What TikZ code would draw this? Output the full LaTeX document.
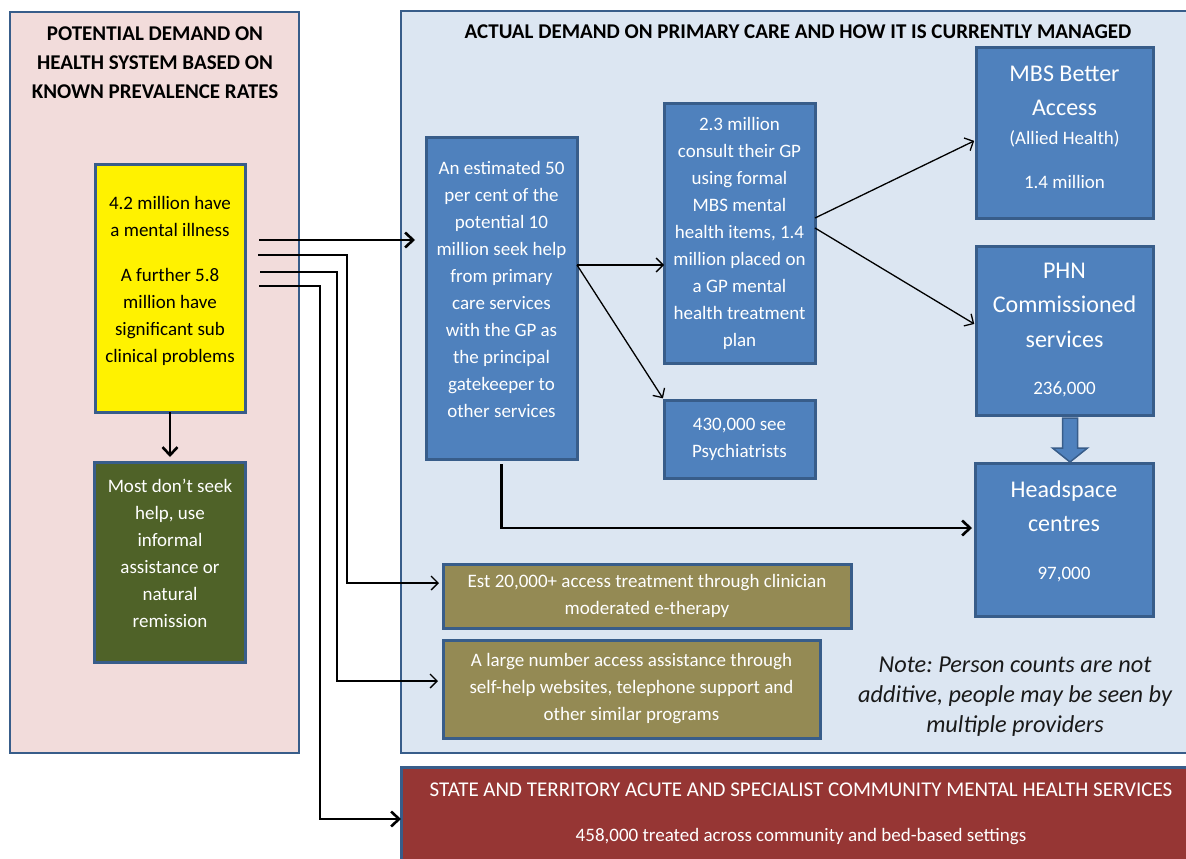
\documentclass[tikz,border=0pt]{standalone}
\usepackage{fontspec}
\setmainfont{Carlito}
\usetikzlibrary{arrows.meta,calc,positioning}
\definecolor{panelBorder}{RGB}{56,93,138}
\definecolor{potentialColor}{RGB}{242,220,219}
\definecolor{actualColor}{RGB}{220,230,242}
\definecolor{serviceColor}{RGB}{79,129,189}
\definecolor{informalColor}{RGB}{79,98,40}
\definecolor{onlineColor}{RGB}{148,138,84}
\definecolor{stateColor}{RGB}{150,54,52}
\newcommand{\bodyfont}{\fontsize{19}{27}\selectfont}
\newcommand{\bigfont}{\fontsize{24}{34}\selectfont}
\tikzset{panel/.style={draw=panelBorder, line width=2.5pt, inner sep=0pt, outer sep=0pt, anchor=north west}}
\tikzset{box/.style={panel, line width=3pt, align=center, text=white, font=\bodyfont}}
\tikzset{service/.style={box, fill=serviceColor}}
\tikzset{online/.style={box, fill=onlineColor}}
\tikzset{heading/.style={align=center, font=\bfseries\fontsize{21}{29}\selectfont}}
\tikzset{thickarrow/.style={line width=2.6pt, -{Straight Barb[length=8pt, width=15pt]}}}
\tikzset{thinarrow/.style={line width=1.3pt, -{Straight Barb[length=7pt, width=14pt]}}}
\tikzset{blockarrow/.style={fill=serviceColor, draw=panelBorder, line width=1.5pt, line join=miter}}

\begin{document}
\frenchspacing
\begin{tikzpicture}[x=1pt, y=-1pt]
\useasboundingbox (0,0) rectangle (1186,859);
% Panels
    \node (PotentialPanel) [panel, fill=potentialColor, minimum width=289pt, minimum height=741pt] at (10,12) {};
    \node (PotentialTitle) [heading] at (155,63) {POTENTIAL DEMAND ON\\ HEALTH SYSTEM BASED ON\\ KNOWN PREVALENCE RATES};

    \node (ActualPanel) [panel, fill=actualColor, minimum width=800pt, minimum height=742pt] at (401,11) {};
    \node (ActualTitle) [heading] at (798,32) {ACTUAL DEMAND ON PRIMARY CARE AND HOW IT IS CURRENTLY MANAGED};

    \node (StateServices) [box, fill=stateColor, minimum width=800pt, minimum height=113pt] at (401,767) {\fontsize{21}{27}\selectfont STATE AND TERRITORY ACUTE AND SPECIALIST COMMUNITY MENTAL HEALTH SERVICES\\[18pt] 458,000 treated across community and bed-based settings\\[-4pt] \mbox{}};

% Boxes
    \node (MentalIllness) [box, fill=yellow, text=black, minimum width=150pt, minimum height=248pt] at (95,164) {4.2 million have\\ a mental illness\\[18pt] A further 5.8\\ million have\\ significant sub\\ clinical problems\\[-9pt] \mbox{}};

    \node (NoHelp) [box, fill=informalColor, minimum width=151pt, minimum height=200pt, below=50pt of MentalIllness, anchor=north] {Most don’t seek\\ help, use\\ informal\\ assistance or\\ natural\\ remission\\[-9pt] \mbox{}};

    \node (SeekHelp) [service, minimum width=151pt, minimum height=322pt] at (426,137) {An estimated 50\\ per cent of the\\ potential 10\\ million seek help\\ from primary\\ care services\\ with the GP as\\ the principal\\ gatekeeper to\\ other services\\[-9pt] \mbox{}};

    \node (ConsultGP) [service, minimum width=151pt, minimum height=260pt] at (664,103) {2.3 million\\ consult their GP\\ using formal\\ MBS mental\\ health items, 1.4\\ million placed on\\ a GP mental\\ health treatment\\ plan};

    \node (Psychiatrists) [service, minimum width=151pt, minimum height=78pt, below=37pt of ConsultGP.south west, anchor=north west] {430,000 see\\ Psychiatrists};

    \node (BetterAccess) [service, minimum width=177pt, minimum height=170pt] at (976,48) {\bigfont MBS Better\\[7pt] \bigfont Access\\[2pt] (Allied Health)\\[17pt] 1.4 million\\[-15pt] \mbox{}};

    \node (PHNServices) [service, minimum width=177pt, minimum height=169pt, below=28pt of BetterAccess.south west, anchor=north west] {\bigfont PHN\\[7pt] \bigfont Commissioned\\[8pt] \bigfont services\\[20pt] 236,000};

    \node (Headspace) [service, minimum width=178pt, minimum height=153pt, below=48pt of PHNServices.south west, anchor=north west, xshift=-1pt] {\bigfont Headspace\\[7pt] \bigfont centres\\[21pt] 97,000\\[-9pt] \mbox{}};

    \node (ETherapy) [online, minimum width=408pt, minimum height=64pt] at (443,564) {Est 20,000+ access treatment through clinician\\ moderated e-therapy};

    \node (SelfHelp) [online, minimum width=377pt, minimum height=98pt, below=12pt of ETherapy.south west, anchor=north west] {A large number access assistance through\\ self-help websites, telephone support and\\ other similar programs};

    \node (Note) [align=center, text=black!90, font=\itshape\fontsize{24.3}{30}\selectfont] at (1015,697) {Note: Person counts are not\\ additive, people may be seen by\\ multiple providers};

% Connectors
    \draw [thickarrow, shorten <=14pt, shorten >=11pt] ([yshift=48pt]MentalIllness.east) -- ([yshift=48pt]MentalIllness.east -| SeekHelp.west);
    \draw [thinarrow, shorten <=13pt, shorten >=4pt] ([yshift=33pt]MentalIllness.east) -- ++(102,0) |- ([yshift=13pt]ETherapy.west);
    \draw [thinarrow, shorten <=15pt, shorten >=5pt] ([yshift=16pt]MentalIllness.east) -- ++(92,0) |- ([yshift=8pt]SelfHelp.west);
    \draw [thickarrow, shorten <=14pt] ([yshift=2pt]MentalIllness.east) -- ++(75,0) |- ([yshift=4.5pt]StateServices.west);
    \draw [thickarrow, shorten >=5pt] (MentalIllness.south) -- (NoHelp.north);

    \draw [thickarrow, shorten <=5pt, shorten >=3pt] (SeekHelp.south) |- ([yshift=11.5pt]Headspace.west);
    \draw [thinarrow] ([yshift=33pt]SeekHelp.east) -- ([yshift=33pt]SeekHelp.east -| ConsultGP.west);
    \draw [thinarrow, shorten >=2pt] ([yshift=33pt]SeekHelp.east) -- (Psychiatrists.north west);
    \draw [thinarrow, shorten >=2pt] ([yshift=15pt]ConsultGP.east) -- ([yshift=-7pt]BetterAccess.west);
    \draw [thinarrow, shorten >=2pt] ([yshift=5pt]ConsultGP.east) -- ([yshift=5.5pt]PHNServices.west);

    \draw [blockarrow] ($(PHNServices.south)+(-2,3)$) -- ++(15,0) -- ++(0,30) -- ++(10,0) -- ++(-17.5,14) -- ++(-17.5,-14) -- ++(10,0) -- cycle;

\end{tikzpicture}
\end{document}
